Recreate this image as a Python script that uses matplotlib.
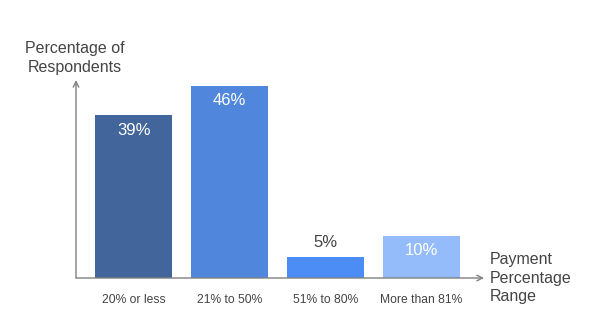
import matplotlib.pyplot as plt

# data
categories = ["20% or less", "21% to 50%", "51% to 80%", "More than 81%"]
values = [39, 46, 5, 10]
labels = ["39%", "46%", "5%", "10%"]
colors = ["#42659c", "#5086dc", "#4b8cf5", "#94bbfa"]
label_colors = ["white", "white", "#444444", "white"]
label_inside = [True, True, False, True]

plt.rcParams['font.family'] = ['Liberation Sans', 'DejaVu Sans']

fig = plt.figure(figsize=(6.02, 3.26), dpi=100)
W, H = 602, 326
ax = fig.add_axes([76 / W, 1 - 278 / H, (484 - 76) / W, (278 - 80) / H])

x = range(len(categories))
ax.bar(x, values, width=0.8, color=colors, edgecolor="none")
ax.set_xlim(-0.6, 3.65)
ax.set_ylim(0, 47.5)

for i, v in enumerate(values):
    if label_inside[i]:
        ax.text(i, v - 3.5, labels[i], ha="center", va="center", color=label_colors[i], fontsize=12)
    else:
        ax.text(i, v + 3.6, labels[i], ha="center", va="center", color=label_colors[i], fontsize=12)

for s in ax.spines.values():
    s.set_visible(False)
ax.set_xticks([])
ax.set_yticks([])
ax.patch.set_alpha(0)

for i, c in enumerate(categories):
    ax.text(i, -5.3, c, ha="center", va="center", color="#444444", fontsize=8.7)

# axis arrows
arrow = dict(arrowstyle="->", color="#808080", lw=1.0, shrinkA=0, shrinkB=0)
ax.annotate("", xy=(1, 0), xytext=(0, 0), xycoords="axes fraction", arrowprops=arrow)
ax.annotate("", xy=(0, 1), xytext=(0, 0), xycoords="axes fraction", arrowprops=arrow)

fig.text(75 / W, 1 - 58 / H, "Percentage of\nRespondents", ha="center", va="center",
         color="#444444", fontsize=11.5, linespacing=1.4)
fig.text(490 / W, 1 - 278 / H, "Payment\nPercentage\nRange", ha="left", va="center",
         color="#444444", fontsize=11.5, linespacing=1.32)

fig.savefig("out.png", dpi=100)
